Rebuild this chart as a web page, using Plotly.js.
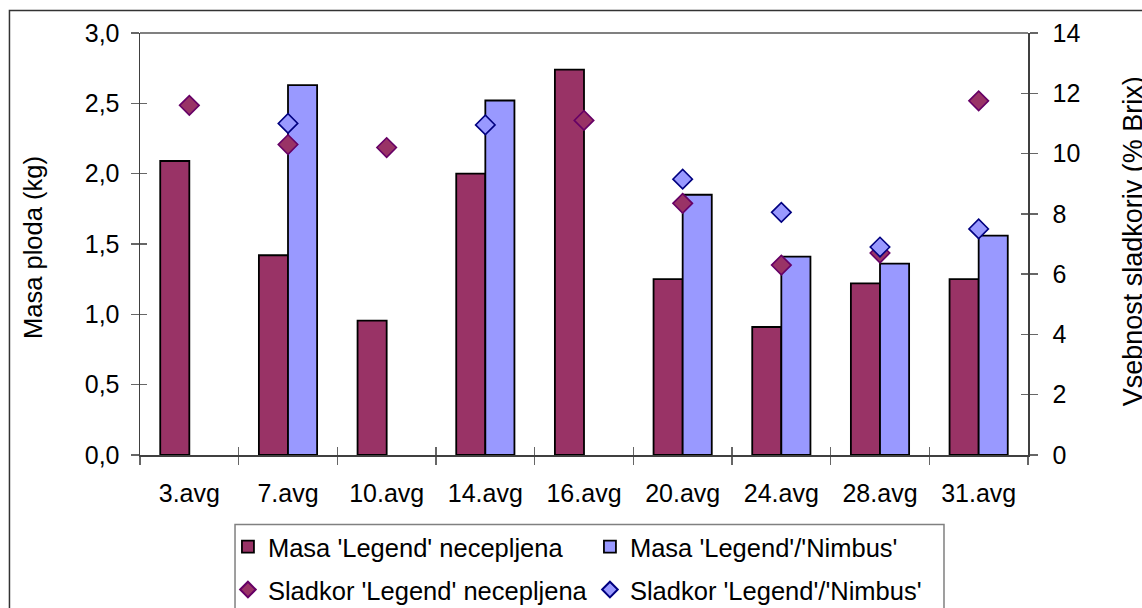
<!DOCTYPE html>
<html>
<head>
<meta charset="utf-8">
<script src="https://cdn.plot.ly/plotly-3.0.1.min.js"></script>
<style>
  html, body { margin: 0; padding: 0; background: #ffffff; }
  #chart { width: 1142px; height: 608px; }
</style>
</head>
<body>
<div id="chart"></div>
<script>
// Harvest dates
const categories = ['3.avg', '7.avg', '10.avg', '14.avg', '16.avg', '20.avg', '24.avg', '28.avg', '31.avg'];

// Fruit mass (kg)
const masaNecepljena = [2.09, 1.42, 0.955, 2.00, 2.74, 1.25, 0.91, 1.22, 1.25];
const masaNimbus = [null, 2.63, null, 2.52, null, 1.85, 1.41, 1.36, 1.56];

// Sugar content (% Brix)
const sladkorNecepljena = [11.6, 10.3, 10.2, null, 11.1, 8.35, 6.3, 6.7, 11.75];
const sladkorNimbus = [null, 11.0, null, 10.95, null, 9.15, 8.05, 6.9, 7.5];

// Series names
const seriesNames = [
  "Masa 'Legend' necepljena",
  "Masa 'Legend'/'Nimbus'",
  "Sladkor 'Legend' necepljena",
  "Sladkor 'Legend'/'Nimbus'"
];

const maroon = '#993366';
const lilac = '#9999FF';
const font = { family: 'Liberation Sans, Arial, sans-serif', size: 25, color: '#000000' };
const legendFont = { family: 'Liberation Sans, Arial, sans-serif', size: 25.5, color: '#000000' };

const traces = [
  {
    type: 'bar', name: seriesNames[0], x: categories, y: masaNecepljena,
    marker: { color: maroon, line: { color: '#000000', width: 1.8 } },
    legend: 'legend', hoverinfo: 'skip'
  },
  {
    type: 'bar', name: seriesNames[1], x: categories, y: masaNimbus,
    marker: { color: lilac, line: { color: '#000000', width: 1.8 } },
    legend: 'legend', hoverinfo: 'skip'
  },
  {
    type: 'scatter', mode: 'markers', name: seriesNames[2], x: categories, y: sladkorNecepljena,
    yaxis: 'y2',
    marker: { symbol: 'diamond', size: 15, color: maroon, line: { color: '#660066', width: 1.6 } },
    legend: 'legend2', hoverinfo: 'skip'
  },
  {
    type: 'scatter', mode: 'markers', name: seriesNames[3], x: categories, y: sladkorNimbus,
    yaxis: 'y2',
    marker: { symbol: 'diamond', size: 15, color: lilac, line: { color: '#000080', width: 1.6 } },
    legend: 'legend2', hoverinfo: 'skip'
  },
  // helper axes carrying the inner halves of the crossing tick marks
  { type: 'scatter', x: [], y: [], xaxis: 'x', yaxis: 'y3', showlegend: false, hoverinfo: 'skip' },
  { type: 'scatter', x: [], y: [], xaxis: 'x', yaxis: 'y4', showlegend: false, hoverinfo: 'skip' },
  { type: 'scatter', x: [], y: [], xaxis: 'x2', yaxis: 'y', showlegend: false, hoverinfo: 'skip' }
];

const axisColor = '#404040';

const layout = {
  width: 1142,
  height: 608,
  margin: { l: 140, r: 114, t: 33, b: 153, pad: 0 },
  paper_bgcolor: '#ffffff',
  plot_bgcolor: '#ffffff',
  font: font,
  separators: ',.',
  barmode: 'group',
  bargap: 0.41,
  bargroupgap: 0,
  showlegend: true,
  xaxis: {
    type: 'category',
    categoryorder: 'array',
    categoryarray: categories,
    range: [-0.5, categories.length - 0.5],
    tickson: 'boundaries',
    ticks: 'outside', ticklen: 8, tickwidth: 1.5, tickcolor: '#666666',
    showline: true, linecolor: axisColor, linewidth: 1.5,
    showgrid: false, zeroline: false,
    tickfont: font,
    ticklabelstandoff: 15,
    fixedrange: true
  },
  xaxis2: {
    overlaying: 'x', anchor: 'y',
    range: [-0.5, categories.length - 0.5],
    tick0: -0.5, dtick: 1,
    ticks: 'inside', ticklen: 8, tickwidth: 1.5, tickcolor: '#666666',
    showticklabels: false, showline: false, showgrid: false, zeroline: false,
    fixedrange: true
  },
  yaxis: {
    range: [0, 3], dtick: 0.5, tick0: 0, tickformat: '.1f',
    ticks: 'outside', ticklen: 8, tickwidth: 1.5, tickcolor: '#666666',
    showline: true, linecolor: axisColor, linewidth: 1.5,
    showgrid: false, zeroline: false,
    tickfont: font,
    ticklabelstandoff: 6,
    fixedrange: true
  },
  yaxis2: {
    overlaying: 'y', side: 'right', anchor: 'x',
    range: [0, 14], dtick: 2, tick0: 0,
    ticks: 'outside', ticklen: 8, tickwidth: 1.5, tickcolor: '#666666',
    showline: true, linecolor: axisColor, linewidth: 1.5,
    showgrid: false, zeroline: false,
    tickfont: font,
    ticklabelstandoff: 10,
    fixedrange: true
  },
  yaxis3: {
    overlaying: 'y', side: 'left', anchor: 'x',
    range: [0, 3], dtick: 0.5, tick0: 0,
    ticks: 'inside', ticklen: 7, tickwidth: 1.5, tickcolor: '#666666',
    showticklabels: false, showline: false, showgrid: false, zeroline: false,
    fixedrange: true
  },
  yaxis4: {
    overlaying: 'y', side: 'right', anchor: 'x',
    range: [0, 14], dtick: 2, tick0: 0,
    ticks: 'inside', ticklen: 7, tickwidth: 1.5, tickcolor: '#666666',
    showticklabels: false, showline: false, showgrid: false, zeroline: false,
    fixedrange: true
  },
  legend: {
    orientation: 'h',
    xref: 'container', yref: 'container',
    x: 0.1996, xanchor: 'left',
    y: 0.1003, yanchor: 'middle',
    entrywidth: 317, entrywidthmode: 'pixels',
    bgcolor: 'rgba(0,0,0,0)', borderwidth: 0,
    font: legendFont,
    itemclick: false, itemdoubleclick: false
  },
  legend2: {
    orientation: 'h',
    xref: 'container', yref: 'container',
    x: 0.1996, xanchor: 'left',
    y: 0.0296, yanchor: 'middle',
    entrywidth: 317, entrywidthmode: 'pixels',
    itemsizing: 'constant',
    bgcolor: 'rgba(0,0,0,0)', borderwidth: 0,
    font: legendFont,
    itemclick: false, itemdoubleclick: false
  },
  annotations: [
    {
      text: 'Masa ploda (kg)', textangle: -90,
      xref: 'paper', yref: 'paper', x: -0.1205, y: 0.493,
      xanchor: 'center', yanchor: 'middle', showarrow: false,
      font: { family: font.family, size: 25.5, color: '#000000' }
    },
    {
      text: 'Vsebnost sladkorjv (% Brix)', textangle: -90,
      xref: 'paper', yref: 'paper', x: 1.1185, y: 0.507,
      xanchor: 'center', yanchor: 'middle', showarrow: false,
      font: { family: font.family, size: 27, color: '#000000' }
    }
  ],
  shapes: [
    // outer chart frame
    {
      type: 'rect', xref: 'paper', yref: 'paper',
      x0: -0.147, x1: 1.4, y0: -0.6, y1: 1.0533,
      line: { color: '#333333', width: 1.5 }, fillcolor: 'rgba(0,0,0,0)', layer: 'below'
    },
    // top edge of the plot area
    {
      type: 'line', xref: 'paper', yref: 'paper',
      x0: 0, x1: 1, y0: 1, y1: 1,
      line: { color: '#808080', width: 2 }
    },
    // legend frame
    {
      type: 'rect', xref: 'paper', yref: 'paper',
      x0: 0.107, x1: 0.9054, y0: -0.6, y1: -0.1647,
      line: { color: '#808080', width: 1.5 }, fillcolor: 'rgba(0,0,0,0)'
    }
  ]
};

Plotly.newPlot('chart', traces, layout, { displayModeBar: false, staticPlot: true });
</script>
</body>
</html>
